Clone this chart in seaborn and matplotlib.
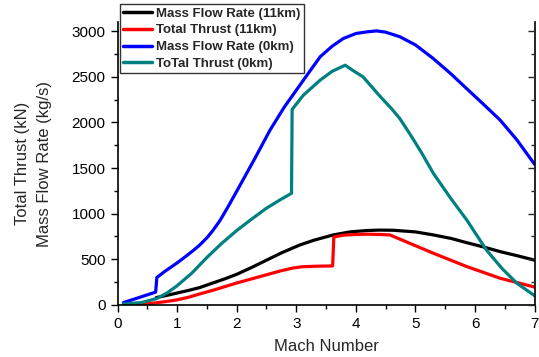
import matplotlib
matplotlib.use("Agg")
import matplotlib.pyplot as plt
import seaborn as sns
from matplotlib.ticker import MultipleLocator

sns.set_style("ticks")
plt.rcParams['font.family'] = ['Liberation Sans', 'DejaVu Sans']

# Mass Flow Rate (11km)
mach_mfr11 = [0.65, 0.8, 1.0, 1.2, 1.38, 1.6, 1.8, 2.0, 2.25, 2.5, 2.75, 3.06, 3.3, 3.62,
              3.9, 4.18, 4.4, 4.63, 5.0, 5.3, 5.6, 5.86, 6.14, 6.42, 6.7, 7.0]
mfr11 = [80, 100, 130, 160, 190, 240, 285, 335, 410, 490, 570, 657, 710, 767,
         800, 815, 820, 818, 800, 767, 728, 682, 635, 584, 540, 490]

# Total Thrust (11km)
mach_thr11 = [0.1, 0.5, 0.8, 1.0, 1.2, 1.38, 1.6, 1.8, 2.0, 2.25, 2.5, 2.75, 2.95, 3.1, 3.34,
              3.61, 3.63, 3.8, 4.0, 4.18, 4.4, 4.57, 5.3, 5.86, 6.42, 7.0]
thr11 = [0, 12, 35, 55, 85, 120, 160, 200, 240, 285, 330, 375, 405, 418, 424,
         427, 745, 765, 772, 775, 772, 767, 566, 420, 292, 195]

# Mass Flow Rate (0km)
mach_mfr0 = [0.1, 0.64, 0.66, 0.8, 1.0, 1.14, 1.25, 1.37, 1.5, 1.6, 1.72, 1.85, 2.0, 2.3,
             2.56, 2.8, 3.12, 3.4, 3.6, 3.79, 4.0, 4.18, 4.35, 4.5, 4.74,
             5.0, 5.3, 5.6, 5.86, 6.14, 6.42, 6.7, 7.0]
mfr0 = [25, 140, 300, 370, 460, 529, 585, 650, 735, 815, 925, 1070, 1245, 1600,
        1917, 2170, 2464, 2720, 2835, 2921, 2975, 2993, 3004, 2990, 2939,
        2850, 2700, 2530, 2370, 2200, 2026, 1810, 1540]

# ToTal Thrust (0km)
mach_thr0 = [0.1, 0.4, 0.66, 0.83, 1.0, 1.25, 1.5, 1.75, 2.0, 2.25, 2.5, 2.75, 2.92, 2.93,
             3.12, 3.4, 3.6, 3.82, 3.95, 4.12, 4.4, 4.6, 4.74, 4.9, 5.1, 5.3, 5.6, 5.86,
             6.19, 6.45, 6.7, 7.0]
thr0 = [10, 25, 70, 130, 210, 350, 520, 675, 815, 940, 1060, 1160, 1223, 2143,
        2300, 2464, 2560, 2628, 2570, 2500, 2290, 2150, 2040, 1880, 1670, 1442, 1160, 931,
        602, 400, 238, 100]

fig = plt.figure(figsize=(5.39, 3.57), dpi=100)
ax = fig.add_axes([0.218, 0.146, 0.774, 0.792])

series = [
    (mach_mfr11, mfr11, "black", "Mass Flow Rate (11km)"),
    (mach_thr11, thr11, "#ff0000", "Total Thrust (11km)"),
    (mach_mfr0, mfr0, "#0000ff", "Mass Flow Rate (0km)"),
    (mach_thr0, thr0, "#008080", "ToTal Thrust (0km)"),
]
for xs, ys, col, lab in series:
    sns.lineplot(x=xs, y=ys, color=col, lw=2.3, label=lab, estimator=None, sort=False, ax=ax)

ax.set_xlim(0, 7)
ax.set_ylim(0, 3100)
ax.xaxis.set_major_locator(MultipleLocator(1))
ax.xaxis.set_minor_locator(MultipleLocator(0.5))
ax.yaxis.set_major_locator(MultipleLocator(500))
ax.yaxis.set_minor_locator(MultipleLocator(250))
ax.tick_params(which="both", direction="out", labelsize=11, width=1, colors="black")
ax.tick_params(which="major", length=5)
ax.tick_params(which="minor", length=3)
ax.spines["top"].set_visible(False)
for s in ["left", "bottom", "right"]:
    ax.spines[s].set_linewidth(1.2)
    ax.spines[s].set_color("black")

# right spine ticks point inward
ax2 = ax.twinx()
ax2.set_ylim(ax.get_ylim())
ax2.yaxis.set_major_locator(MultipleLocator(500))
ax2.yaxis.set_minor_locator(MultipleLocator(250))
ax2.tick_params(which="both", direction="in", labelright=False, width=1)
ax2.tick_params(which="major", length=5)
ax2.tick_params(which="minor", length=3)
for s in ax2.spines.values():
    s.set_visible(False)

ax.set_xlabel("Mach Number", fontsize=12, labelpad=6)
ax.set_ylabel("Total Thrust (kN)\nMass Flow Rate (kg/s)", fontsize=12, labelpad=14,
              linespacing=1.6)

leg = ax.legend(loc="upper left", bbox_to_anchor=(120 / 539, 1 - 4 / 357),
                bbox_transform=fig.transFigure, frameon=True, fancybox=False,
                prop={"weight": "bold", "size": 9.5}, handlelength=2.2,
                handletextpad=0.3, borderpad=0.25, labelspacing=0.35,
                borderaxespad=0)
leg.get_frame().set_edgecolor("black")
leg.get_frame().set_linewidth(1.0)
leg.set_zorder(10)
for line in leg.get_lines():
    line.set_linewidth(2.5)

fig.savefig("out.png", dpi=100)
